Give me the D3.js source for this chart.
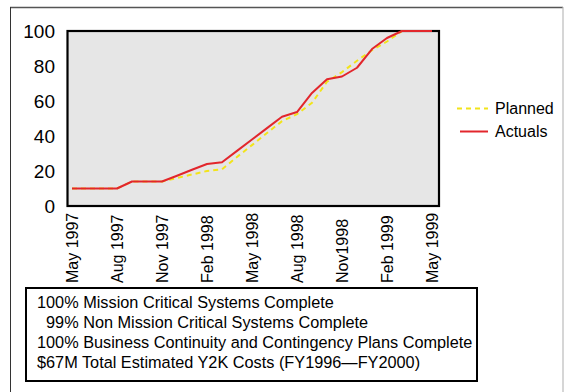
<!DOCTYPE html>
<html>
<head>
<meta charset="utf-8">
<script src="https://cdn.jsdelivr.net/npm/d3@7"></script>
<style>
  body { margin: 0; background: #fff; }
  svg { display: block; }
  text { font-family: "Liberation Sans", Arial, Helvetica, sans-serif; fill: #000; }
</style>
</head>
<body>
<svg id="chart" width="565" height="392"></svg>
<script>
// Monthly progress, percent complete
const months = [
  "1997-05","1997-06","1997-07","1997-08","1997-09","1997-10","1997-11","1997-12",
  "1998-01","1998-02","1998-03","1998-04","1998-05","1998-06","1998-07","1998-08",
  "1998-09","1998-10","1998-11","1998-12","1999-01","1999-02","1999-03","1999-04","1999-05"
];
const planned = [10,10,10,10,14,14,14,16,18,20,21,28,34.8,41.7,48.5,52.5,59,71,76.5,83,89,94,100,100,100];
const actuals = [10,10,10,10,14,14,14,17.3,20.7,24,25,31.5,38,44.5,51,53.7,64.6,72.4,74,79,89.7,96,100,100,100];

const yTicks = [0, 20, 40, 60, 80, 100];
const xTickMonths = ["1997-05","1997-08","1997-11","1998-02","1998-05","1998-08","1998-11","1999-02","1999-05"];
const xTickLabels = ["May 1997","Aug 1997","Nov 1997","Feb 1998","May 1998","Aug 1998","Nov1998","Feb 1999","May 1999"];

const seriesNames = ["Planned", "Actuals"];
const statusLines = [
  "100% Mission Critical Systems Complete",
  "  99% Non Mission Critical Systems Complete",
  "100% Business Continuity and Contingency Plans Complete",
  "$67M Total Estimated Y2K Costs (FY1996\u2014FY2000)"
];

const svg = d3.select("#chart");
const plot = { left: 67.5, right: 439, top: 31, bottom: 206 };

// Outer frame
svg.append("line").attr("x1", 10).attr("x2", 563).attr("y1", 7.5).attr("y2", 7.5)
  .attr("stroke", "#555").attr("stroke-width", 1.5);
svg.append("line").attr("x1", 10.5).attr("x2", 10.5).attr("y1", 7).attr("y2", 392)
  .attr("stroke", "#333").attr("stroke-width", 1);
svg.append("line").attr("x1", 563).attr("x2", 563).attr("y1", 7).attr("y2", 392)
  .attr("stroke", "#bbb").attr("stroke-width", 1.2);

const x = d3.scalePoint().domain(months).range([72, 432]);
const y = d3.scaleLinear().domain([0, 100]).range([plot.bottom, plot.top]);

// Plot area
svg.append("rect")
  .attr("x", plot.left).attr("y", plot.top)
  .attr("width", plot.right - plot.left).attr("height", plot.bottom - plot.top)
  .attr("fill", "#e6e6e6").attr("stroke", "#000").attr("stroke-width", 2.2);

// Y axis
const yAxis = svg.append("g")
  .attr("transform", `translate(${plot.left},0)`)
  .call(d3.axisLeft(y).tickValues(yTicks).tickSize(0).tickPadding(12.5));
yAxis.select(".domain").remove();
yAxis.selectAll("text").style("font-size", "19px").attr("fill", "#000");

// X axis, labels rotated to read bottom-up
const xAxis = svg.append("g")
  .attr("transform", `translate(0,${plot.bottom})`)
  .call(d3.axisBottom(x).tickValues(xTickMonths).tickSize(0)
    .tickFormat((d, i) => xTickLabels[i]));
xAxis.select(".domain").remove();
xAxis.selectAll("text")
  .style("font-size", "16px").attr("fill", "#000")
  .attr("transform", "rotate(-90)")
  .attr("x", -77).attr("y", 0).attr("dy", "0.35em")
  .style("text-anchor", "start");

// Lines
const line = d3.line().x((d, i) => x(months[i])).y(d => y(d));

svg.append("path").datum(planned)
  .attr("d", line).attr("fill", "none")
  .attr("stroke", "#f2e41a").attr("stroke-width", 2)
  .attr("stroke-dasharray", "5,4");

svg.append("path").datum(actuals)
  .attr("d", line).attr("fill", "none")
  .attr("stroke", "#e2262c").attr("stroke-width", 2)
  .attr("stroke-linejoin", "round");

// Legend
const legend = svg.append("g");
legend.append("line").attr("x1", 457).attr("x2", 488).attr("y1", 108.5).attr("y2", 108.5)
  .attr("stroke", "#f2e41a").attr("stroke-width", 2).attr("stroke-dasharray", "5,4");
legend.append("line").attr("x1", 460).attr("x2", 488).attr("y1", 131.5).attr("y2", 131.5)
  .attr("stroke", "#e2262c").attr("stroke-width", 2);
legend.selectAll("text.leg").data(seriesNames).join("text")
  .attr("class", "leg")
  .attr("x", 495).attr("y", (d, i) => 108.5 + i * 23).attr("dy", "0.35em")
  .style("font-size", "16px").text(d => d);

// Status box
svg.append("rect").attr("x", 26).attr("y", 288).attr("width", 451).attr("height", 93)
  .attr("fill", "#fff").attr("stroke", "#000").attr("stroke-width", 2);
svg.selectAll("text.status").data(statusLines).join("text")
  .attr("class", "status")
  .attr("x", 37).attr("y", (d, i) => 307.5 + i * 20.3)
  .style("font-size", "16.3px").style("white-space", "pre")
  .text(d => d);
</script>
</body>
</html>
